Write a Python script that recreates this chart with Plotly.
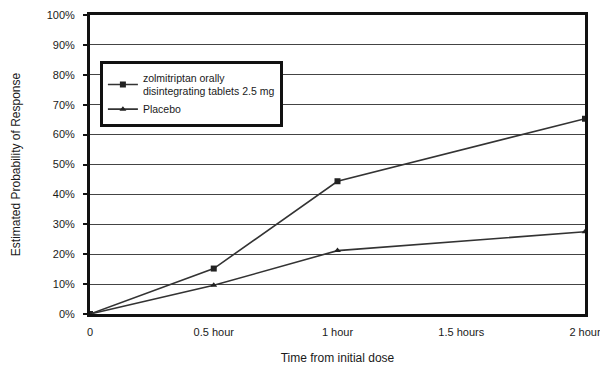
import plotly.graph_objects as go

times = [0, 0.5, 1, 2]
zolmi = [0, 15.2, 44.4, 65.3]
placebo = [0, 9.6, 21.2, 27.5]
x_ticks = [0, 0.5, 1, 1.5, 2]
x_labels = ["0", "0.5 hour", "1 hour", "1.5 hours", "2 hour"]
y_ticks = list(range(0, 101, 10))
y_labels = [f"{v}%" for v in y_ticks]

FONT = "Liberation Sans, Arial, sans-serif"

fig = go.Figure()
fig.add_trace(go.Scatter(
    x=times, y=zolmi, mode="lines+markers",
    name="zolmitriptan orally<br>disintegrating tablets 2.5 mg",
    line=dict(color="#333333", width=1.6),
    marker=dict(symbol="square", size=6, color="#222222"),
))
fig.add_trace(go.Scatter(
    x=times, y=placebo, mode="lines+markers",
    name="Placebo",
    line=dict(color="#333333", width=1.6),
    marker=dict(symbol="triangle-up", size=6, color="#222222"),
))

fig.update_layout(
    width=600, height=363,
    margin=dict(l=82, r=23, t=7, b=57),
    paper_bgcolor="white", plot_bgcolor="white",
    font=dict(family=FONT, color="#1a1a1a", size=11),
    showlegend=True,
    legend=dict(
        x=0.02, y=0.845, xanchor="left", yanchor="top",
        bordercolor="#111111", borderwidth=3, bgcolor="white",
        font=dict(size=10.5, family=FONT),
        tracegroupgap=0, itemwidth=30,
    ),
    xaxis=dict(
        range=[0, 2], tickvals=x_ticks, ticktext=x_labels,
        showgrid=False, zeroline=False, automargin=False,
        showline=True, mirror=True, linecolor="#111111", linewidth=3,
        ticks="", ticklabelstandoff=6, ticklabeloverflow="allow",
        tickfont=dict(size=11, family=FONT),
        title=dict(text="Time from initial dose", font=dict(size=12, family=FONT), standoff=17),
    ),
    yaxis=dict(
        range=[0, 100], tickvals=y_ticks, ticktext=y_labels,
        showgrid=True, gridcolor="#444444", gridwidth=1, zeroline=False, automargin=False,
        showline=True, mirror=True, linecolor="#111111", linewidth=3,
        ticks="outside", ticklen=4, tickwidth=2, tickcolor="#111111",
        ticklabelstandoff=6, ticklabeloverflow="allow",
        tickfont=dict(size=11, family=FONT),
        title=dict(text="Estimated Probability of Response", font=dict(size=12, family=FONT), standoff=24),
    ),
)

fig.write_html("out.html")
